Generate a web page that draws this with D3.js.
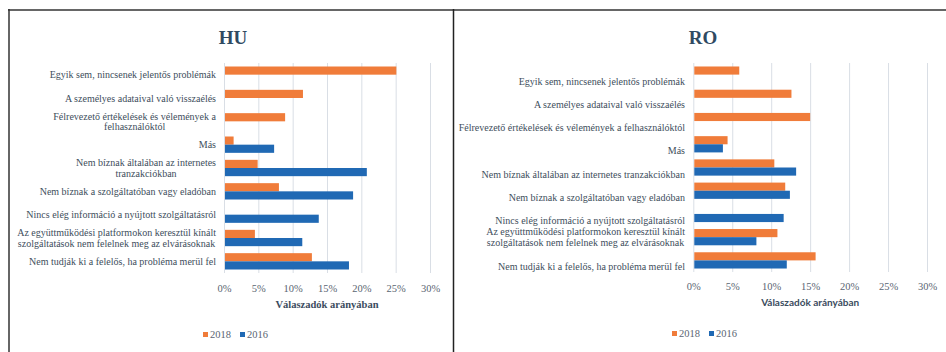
<!DOCTYPE html>
<html>
<head>
<meta charset="utf-8">
<script src="https://cdn.jsdelivr.net/npm/d3@7"></script>
<style>
  html, body { margin: 0; padding: 0; background: #fff; }
  svg { display: block; }
</style>
</head>
<body>
<svg id="chart" width="946" height="352"></svg>
<script>
// Problem categories (same order in both panels, top to bottom)
const categoriesHU = [
  "Egyik sem, nincsenek jelentős problémák",
  "A személyes adataival való visszaélés",
  "Félrevezető értékelések és vélemények a\nfelhasználóktól",
  "Más",
  "Nem bíznak általában az internetes\ntranzakciókban",
  "Nem bíznak a szolgáltatóban vagy eladóban",
  "Nincs elég információ a nyújtott szolgáltatásról",
  "Az együttműködési platformokon keresztül kínált\nszolgáltatások nem felelnek meg az elvárásoknak",
  "Nem tudják ki a felelős, ha probléma merül fel"
];
const categoriesRO = [
  "Egyik sem, nincsenek jelentős problémák",
  "A személyes adataival való visszaélés",
  "Félrevezető értékelések és vélemények a felhasználóktól",
  "Más",
  "Nem bíznak általában az internetes tranzakciókban",
  "Nem bíznak a szolgáltatóban vagy eladóban",
  "Nincs elég információ a nyújtott szolgáltatásról",
  "Az együttműködési platformokon keresztül kínált\nszolgáltatások nem felelnek meg az elvárásoknak",
  "Nem tudják ki a felelős, ha probléma merül fel"
];

const seriesNames = ["2018", "2016"];

// Share of respondents (%), null = not asked that year
const hu2018 = [25.1, 11.5, 8.9, 1.4, 4.9, 8.0, null, 4.5, 12.8];
const hu2016 = [null, null, null, 7.3, 20.8, 18.8, 13.8, 11.4, 18.2];
const ro2018 = [5.9, 12.6, 15.0, 4.4, 10.4, 11.8, null, 10.8, 15.7];
const ro2016 = [null, null, null, 3.8, 13.2, 12.4, 11.6, 8.1, 12.0];

const tickValues = [0, 5, 10, 15, 20, 25, 30];
const axisTitle = "Válaszadók arányában";

const colors = { "2018": "#F07C3A", "2016": "#2069B4" };

const svg = d3.select("#chart");
const SERIF = "'Liberation Serif', 'Times New Roman', serif";
const SANS = "Lato, 'Open Sans', sans-serif";

// Panel frames
const frame = svg.append("g");
frame.append("line").attr("x1", 8).attr("x2", 946).attr("y1", 10).attr("y2", 10)
  .attr("stroke", "#666").attr("stroke-width", 2);
frame.append("line").attr("x1", 9).attr("x2", 9).attr("y1", 9).attr("y2", 352)
  .attr("stroke", "#333").attr("stroke-width", 1.5);
frame.append("line").attr("x1", 453.5).attr("x2", 453.5).attr("y1", 9).attr("y2", 352)
  .attr("stroke", "#222").attr("stroke-width", 1.5);

function drawPanel(opt) {
  const g = svg.append("g");
  const x = d3.scaleLinear().domain([0, 30]).range([opt.left, opt.right]);
  const y0 = d3.scaleBand().domain(d3.range(opt.categories.length))
    .range([opt.top, opt.bottom]).paddingInner(0.3).paddingOuter(0.15);
  const y1 = d3.scaleBand().domain(seriesNames).range([0, y0.bandwidth()]);

  // title
  g.append("text").attr("x", opt.titleX).attr("y", 44)
    .attr("text-anchor", "middle")
    .attr("font-family", SERIF).attr("font-weight", "bold")
    .attr("font-size", 19).attr("fill", "#2F4A62").text(opt.title);

  // vertical gridlines
  g.append("g").selectAll("line").data(tickValues).join("line")
    .attr("x1", d => x(d) + 0.5).attr("x2", d => x(d) + 0.5)
    .attr("y1", opt.top).attr("y2", opt.bottom)
    .attr("stroke", "#D9DEE5").attr("stroke-width", 1);

  // x axis labels
  const axis = d3.axisBottom(x).tickValues(tickValues)
    .tickFormat(d => d + "%").tickSize(0).tickPadding(0);
  const ax = g.append("g").attr("transform", `translate(0,${opt.tickY})`).call(axis);
  ax.select(".domain").remove();
  ax.selectAll("text").attr("font-family", SERIF).attr("font-size", 10.5)
    .attr("fill", "#5A6572").attr("dy", "0.32em");

  // axis title
  g.append("text").attr("x", (opt.left + opt.right) / 2).attr("y", opt.axisTitleY)
    .attr("text-anchor", "middle").attr("dy", "0.35em")
    .attr("font-family", opt.axisTitleFont).attr("font-weight", "bold")
    .attr("font-size", opt.axisTitleSize).attr("fill", "#3B4C5E").text(axisTitle);

  // bars
  const rows = opt.categories.map((c, i) => ({ i, vals: [
    { s: "2018", v: opt.s2018[i] }, { s: "2016", v: opt.s2016[i] }
  ] }));
  const rowG = g.append("g").selectAll("g").data(rows).join("g")
    .attr("transform", d => `translate(0,${y0(d.i)})`);
  rowG.selectAll("rect").data(d => d.vals.filter(v => v.v != null)).join("rect")
    .attr("x", x(0) + 1)
    .attr("y", d => y1(d.s))
    .attr("width", d => x(d.v) - x(0) - 1)
    .attr("height", y1.bandwidth())
    .attr("fill", d => colors[d.s]);

  // category labels (multi-line labels are centred as a block)
  const lineH = 10.5;
  opt.categories.forEach((c, i) => {
    const lines = c.split("\n");
    const cy = y0(i) + y0.bandwidth() / 2 + (lines.length === 1 ? opt.singleShift : 0);
    const t = g.append("text")
      .attr("font-family", SERIF).attr("font-size", 10).attr("fill", "#404E5C")
      .attr("text-anchor", lines.length === 1 ? "end" : "middle");
    const tmp = [];
    lines.forEach((ln, k) => {
      tmp.push(t.append("tspan").attr("x", opt.labelX)
        .attr("y", cy + (k - (lines.length - 1) / 2) * lineH)
        .attr("dy", "0.35em").text(ln));
    });
    if (lines.length > 1) {
      // centre block so its widest line ends at labelX
      const w = d3.max(tmp, s => s.node().getComputedTextLength());
      tmp.forEach(s => s.attr("x", opt.labelX - w / 2));
    }
  });

  // legend
  const lg = g.append("g").attr("transform", `translate(${opt.legendX},${opt.legendY})`);
  seriesNames.forEach((s, k) => {
    const ox = k * 37;
    lg.append("rect").attr("x", ox).attr("y", -2.5).attr("width", 5).attr("height", 5)
      .attr("fill", colors[s]);
    lg.append("text").attr("x", ox + 7).attr("y", 0).attr("dy", "0.35em")
      .attr("font-family", SERIF).attr("font-size", 10.5).attr("fill", "#5A6572").text(s);
  });
}

drawPanel({
  title: "HU", titleX: 233, categories: categoriesHU, s2018: hu2018, s2016: hu2016,
  left: 224, right: 430, top: 63, bottom: 273, labelX: 216, singleShift: 0,
  tickY: 289, axisTitleY: 304, axisTitleFont: SERIF, axisTitleSize: 10.5,
  legendX: 203, legendY: 334.5
});
drawPanel({
  title: "RO", titleX: 703, categories: categoriesRO, s2018: ro2018, s2016: ro2016,
  left: 693.3, right: 927, top: 63, bottom: 272, labelX: 685, singleShift: 6.5,
  tickY: 287, axisTitleY: 302.5, axisTitleFont: SANS, axisTitleSize: 10,
  legendX: 672, legendY: 333.5
});
</script>
</body>
</html>
